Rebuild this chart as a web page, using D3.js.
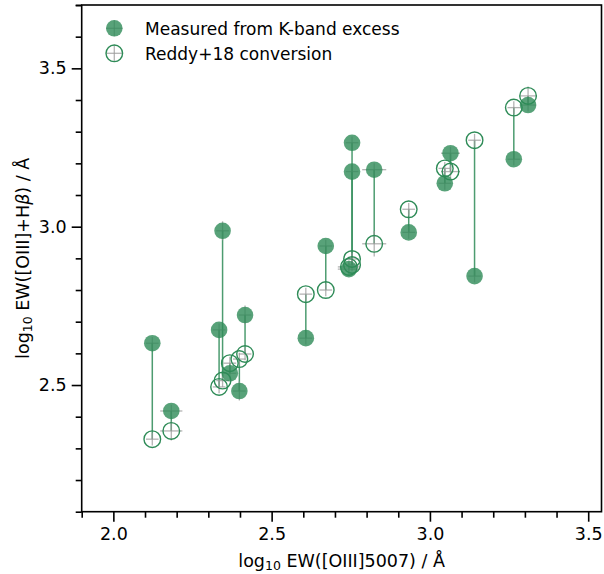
<!DOCTYPE html>
<html><head><meta charset="utf-8">
<script src="https://cdn.jsdelivr.net/npm/d3@7"></script>
<style>body{margin:0;background:#fff}svg{display:block}text{font-family:"DejaVu Sans",sans-serif}</style>
</head><body><svg id="c" width="604" height="574"></svg>
<script>
// log10 EW([OIII]5007) for each object
const xVals = [2.123,2.183,2.334,2.345,2.368,2.398,2.416,2.608,2.671,2.754,2.754,2.744,2.824,2.933,3.047,3.065,3.141,3.265,3.310];
// Measured from K-band excess
const yMeasured = [2.632,2.418,2.674,2.987,2.537,2.481,2.721,2.648,2.939,3.265,3.174,2.866,3.180,2.982,3.137,3.232,2.844,3.213,3.384];
// Reddy+18 conversion
const yReddy = [2.329,2.355,2.494,2.514,2.569,2.582,2.598,2.787,2.800,2.898,2.879,2.873,2.946,3.055,3.184,3.174,3.273,3.376,3.413];
const xErr = [0.02,0.035,0.02,0.02,0.02,0.02,0.02,0.02,0.02,0.02,0.02,0.035,0.038,0.02,0.02,0.03,0.02,0.02,0.025];
const yErrMeasured = [0.02,0.02,0.02,0.03,0.02,0.03,0.03,0.02,0.02,0.02,0.02,0.02,0.02,0.02,0.02,0.02,0.02,0.02,0.02];
const yErrReddy = [0.02,0.03,0.02,0.02,0.02,0.02,0.02,0.02,0.02,0.02,0.02,0.02,0.04,0.02,0.02,0.02,0.02,0.02,0.03];
const xMajor = [2.0,2.5,3.0,3.5];
const yMajor = [2.5,3.0,3.5];
const legendLabels = ["Measured from K-band excess","Reddy+18 conversion"];

const green = "#2e8b57";
const svg = d3.select("#c");
const L = 81.7, R = 601.5, T = 5, B = 511.7;
const x = d3.scaleLinear().domain([1.9,3.542]).range([L,R]);
const y = d3.scaleLinear().domain([2.1,3.7]).range([B,T]);

const xMinor = d3.range(19,36).map(v=>v/10).filter(v=>!xMajor.some(m=>Math.abs(m-v)<1e-6));
const yMinor = d3.range(21,38).map(v=>v/10).filter(v=>!yMajor.some(m=>Math.abs(m-v)<1e-6));

function styleAxis(g){
  g.select(".domain").remove();
  g.selectAll("line").attr("stroke","#000").attr("stroke-width",1.6);
  g.selectAll("text").attr("font-size","17.5px").attr("fill","#000").attr("font-family","DejaVu Sans");
}
svg.append("g").attr("transform",`translate(0,${B})`)
  .call(d3.axisBottom(x).tickValues(xMajor).tickFormat(d3.format(".1f")).tickSize(10).tickPadding(6)).call(styleAxis);
svg.append("g").attr("transform",`translate(0,${B})`)
  .call(d3.axisBottom(x).tickValues(xMinor).tickFormat("").tickSize(6)).call(styleAxis);
svg.append("g").attr("transform",`translate(${L},0)`)
  .call(d3.axisLeft(y).tickValues(yMajor).tickFormat(d3.format(".1f")).tickSize(10).tickPadding(5)).call(styleAxis);
svg.append("g").attr("transform",`translate(${L},0)`)
  .call(d3.axisLeft(y).tickValues(yMinor.concat([3.7])).tickFormat("").tickSize(6)).call(styleAxis);

svg.append("rect").attr("x",L).attr("y",T).attr("width",R-L).attr("height",B-T)
  .attr("fill","none").attr("stroke","#000").attr("stroke-width",1.6);

const plot = svg.append("g");
const idx = d3.range(xVals.length);
// connecting lines
plot.selectAll("line.conn").data(idx).join("line")
  .attr("x1",i=>x(xVals[i])).attr("x2",i=>x(xVals[i]))
  .attr("y1",i=>y(yMeasured[i])).attr("y2",i=>y(yReddy[i]))
  .attr("stroke",green).attr("stroke-width",1.5).attr("stroke-opacity",0.85);

function errbars(ys, yerr){
  const g = plot.append("g").attr("stroke","#999").attr("stroke-opacity",0.75).attr("stroke-width",1.3);
  g.selectAll("line.h").data(idx).join("line")
    .attr("x1",i=>x(xVals[i]-xErr[i])).attr("x2",i=>x(xVals[i]+xErr[i]))
    .attr("y1",i=>y(ys[i])).attr("y2",i=>y(ys[i]));
  g.selectAll("line.v").data(idx).join("line")
    .attr("x1",i=>x(xVals[i])).attr("x2",i=>x(xVals[i]))
    .attr("y1",i=>y(ys[i]-yerr[i])).attr("y2",i=>y(ys[i]+yerr[i]));
}
errbars(yMeasured, yErrMeasured);
errbars(yReddy, yErrReddy);

plot.selectAll("circle.m").data(idx).join("circle")
  .attr("cx",i=>x(xVals[i])).attr("cy",i=>y(yMeasured[i])).attr("r",8.3)
  .attr("fill",green).attr("fill-opacity",0.8);
plot.selectAll("circle.r").data(idx).join("circle")
  .attr("cx",i=>x(xVals[i])).attr("cy",i=>y(yReddy[i])).attr("r",8.3)
  .attr("fill","none").attr("stroke",green).attr("stroke-width",1.4);

// legend
const lg = svg.append("g");
const lx = 114.3, ly = [28.3, 53.3];
ly.forEach((yy,k)=>{
  const c = lg.append("g").attr("stroke","#999").attr("stroke-opacity",0.75).attr("stroke-width",1.3);
  c.append("line").attr("x1",lx-8).attr("x2",lx+8).attr("y1",yy).attr("y2",yy);
  c.append("line").attr("x1",lx).attr("x2",lx).attr("y1",yy-8).attr("y2",yy+8);
  const circ = lg.append("circle").attr("cx",lx).attr("cy",yy).attr("r",8.3);
  if(k===0) circ.attr("fill",green).attr("fill-opacity",0.8);
  else circ.attr("fill","none").attr("stroke",green).attr("stroke-width",1.4);
  lg.append("text").attr("x",145).attr("y",yy+6.3).attr("font-size","17px").text(legendLabels[k]);
});

// axis labels
const xl = svg.append("text").attr("x",(L+R)/2).attr("y",567).attr("text-anchor","middle").attr("font-size","17.5px");
xl.append("tspan").text("log");
xl.append("tspan").attr("font-size","12.5px").attr("dy",3).text("10");
xl.append("tspan").attr("dy",-3).text(" EW([OIII]5007) / Å");

const yl = svg.append("text").attr("transform",`translate(29,${(T+B)/2}) rotate(-90)`).attr("text-anchor","middle").attr("font-size","17.5px");
yl.append("tspan").text("log");
yl.append("tspan").attr("font-size","12.5px").attr("dy",3).text("10");
yl.append("tspan").attr("dy",-3).text(" EW([OIII]+H");
yl.append("tspan").attr("font-style","italic").text("β");
yl.append("tspan").text(") / Å");
</script></body></html>
